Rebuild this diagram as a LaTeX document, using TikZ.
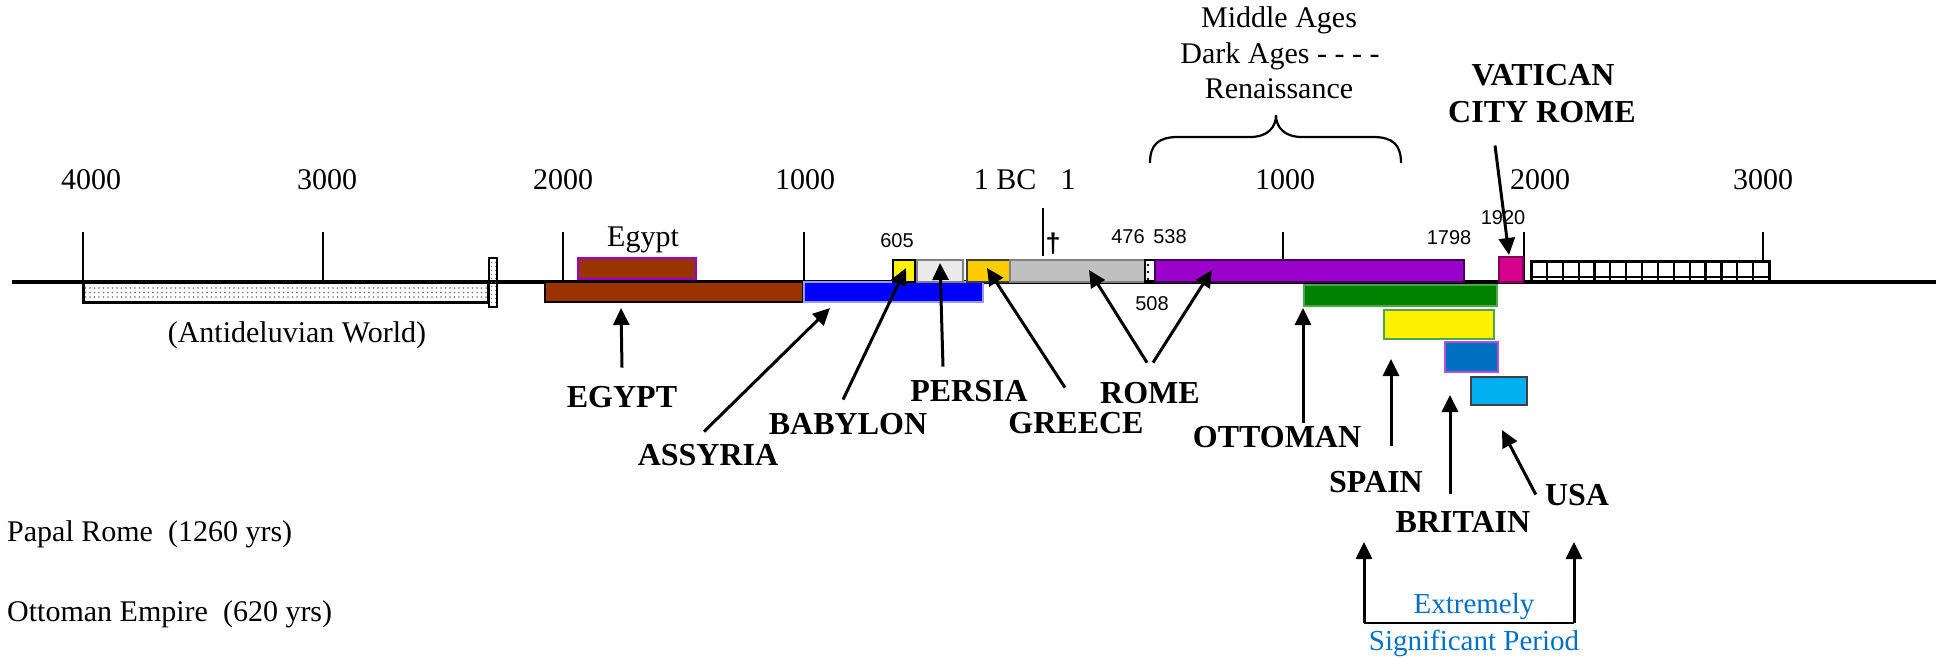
\documentclass[tikz,border=0pt]{standalone}
\usepackage{fontspec}
\setmainfont{Liberation Serif}
\newfontfamily\numfont{Liberation Sans}
\usetikzlibrary{arrows.meta,patterns.meta}

\definecolor{egyptbrown}{HTML}{993300}
\definecolor{assyriablue}{HTML}{0000FF}
\definecolor{persiagray}{HTML}{EAEAEA}
\definecolor{greeceorange}{HTML}{FFCC00}
\definecolor{romegray}{HTML}{C0C0C0}
\definecolor{papalpurple}{HTML}{9900CC}
\definecolor{vaticanpink}{HTML}{D6008F}
\definecolor{ottomangreen}{HTML}{008000}
\definecolor{britainblue}{HTML}{0070C0}
\definecolor{usacyan}{HTML}{00B0F0}
\definecolor{notetext}{HTML}{0070C0}

\begin{document}
\begin{tikzpicture}[x=1pt,y=-1pt,
	yearlbl/.style={anchor=base,inner sep=2pt,font=\fontsize{30}{36}\selectfont},
	empire/.style={anchor=base,inner sep=2pt,font=\fontsize{32}{38}\selectfont\bfseries},
	datelbl/.style={anchor=base,inner sep=1pt,font=\numfont\fontsize{20}{24}\selectfont},
	pointer/.style={line width=3pt,-{Triangle[length=17pt,width=16pt]}},
	tickmark/.style={line width=2.8pt},
	bar/.style={line width=1.2pt}]
	\useasboundingbox (0,0) rectangle (1936,657);

	\draw[line width=3.4pt] (12,282) -- (1936,282);
	\foreach \x in {83,323,563,804,1524}{
	  \draw[tickmark] (\x,232) -- (\x,282);
	}
	\draw[tickmark] (1043,208) -- (1043,256);
	\draw[tickmark] (1283,232) -- (1283,260);
	\draw[tickmark] (1763,232) -- (1763,261);

	\foreach \x/\t/\n in {91/4000/bcfour,327/3000/bcthree,563/2000/bctwo,805/1000/bcone,1005/1 BC/bczero,1068/1/adzero,1285/1000/adone,1540/2000/adtwo,1763/3000/adthree}{
	  \node[yearlbl] (\n) at (\x,189) {\t};
	}

	\draw[line width=3pt,pattern={Dots[distance=4.5pt,radius=0.9pt]},pattern color=black!55] (83,282) rectangle (488,302);
	\draw[line width=2.5pt,pattern={Dots[distance=4pt,radius=0.8pt]},pattern color=black!55] (489,258) rectangle (497,307);
	\draw[bar,fill=egyptbrown] (545,282) rectangle (803,302);
	\draw[bar,draw=papalpurple,fill=egyptbrown] (578,258) rectangle (696,279);
	\draw[bar,draw=assyriablue!40,fill=assyriablue] (804,282) rectangle (983,302);
	\draw[bar,fill=yellow] (893,260) rectangle (915,282);
	\draw[bar,draw=gray,fill=persiagray] (917,260) rectangle (963,282);
	\draw[bar,draw=darkgray,fill=greeceorange] (967,260) rectangle (1010,282);
	\draw[bar,draw=gray,fill=romegray] (1010,260) rectangle (1145,282);
	\draw[bar,pattern={Dots[distance=7pt,radius=1.3pt]}] (1145,260) rectangle (1155,282);
	\draw[bar,draw=papalpurple!40!black,fill=papalpurple] (1155,260) rectangle (1464,282);
	\draw[bar,draw=vaticanpink!60!black,fill=vaticanpink] (1499,257) rectangle (1523,282);
	\draw[bar,draw=ottomangreen!70,fill=ottomangreen] (1304,285) rectangle (1497,306);
	\draw[bar,draw=ottomangreen!70,fill=yellow] (1384,310) rectangle (1494,339);
	\draw[bar,draw=papalpurple!70,fill=britainblue] (1445,342) rectangle (1498,372);
	\draw[bar,draw=darkgray,fill=usacyan] (1471,377) rectangle (1527,405);

	\draw[line width=3pt,fill=white] (1531,261) rectangle (1769,281);
	\foreach \i in {1,...,14}{
	  \draw[line width=2.2pt] ({1531+\i*15.87},261) -- ({1531+\i*15.87},281);
	}
	\draw[line width=2pt] (1531,277) -- (1769,277);

	\draw[line width=2.2pt] (1150,163) .. controls (1150,145) and (1158,137) .. (1178,137) -- (1250,137) .. controls (1268,137) and (1276,127) .. (1276,115) .. controls (1276,127) and (1284,137) .. (1302,137) -- (1373,137) .. controls (1393,137) and (1401,145) .. (1401,163);

	\node[yearlbl] (midages) at (1279,27) {Middle Ages};
	\node[yearlbl] (darkages) at (1280,63) {Dark Ages - - - -};
	\node[yearlbl] (renaiss) at (1279,98) {Renaissance};

	\node[yearlbl] (egyptsmall) at (643,246) {Egypt};
	\node[datelbl] (d605) at (897,247) {605};
	\node[datelbl] (d476) at (1128,243) {476};
	\node[datelbl] (d538) at (1170,243) {538};
	\node[datelbl] (d508) at (1152,310) {508};
	\node[datelbl] (d1798) at (1449,244) {1798};
	\node[datelbl] (d1920) at (1503,224) {1920};
	\node[datelbl,font=\numfont\fontsize{27}{30}\selectfont\bfseries] (cross) at (1053,252) {†};

	\node[yearlbl] (antedil) at (297,342) {(Antideluvian World)};
	\node[yearlbl,anchor=base west] (papal) at (5,541) {Papal Rome\ \ (1260 yrs)};
	\node[yearlbl,anchor=base west] (ottemp) at (5,621) {Ottoman Empire\ \ (620 yrs)};

	\node[empire] (egypt) at (622,407) {EGYPT};
	\node[empire] (assyria) at (708,465) {ASSYRIA};
	\node[empire] (babylon) at (848,434) {BABYLON};
	\node[empire] (persia) at (969,401) {PERSIA};
	\node[empire] (greece) at (1076,433) {GREECE};
	\node[empire] (rome) at (1150,403) {ROME};
	\node[empire] (ottoman) at (1277,447) {OTTOMAN};
	\node[empire] (spain) at (1376,492) {SPAIN};
	\node[empire] (britain) at (1463,532) {BRITAIN};
	\node[empire] (usa) at (1577,505) {USA};
	\node[empire] (vatican) at (1543,85) {VATICAN};
	\node[empire] (cityrome) at (1542,122) {CITY ROME};

	\node[yearlbl,text=notetext,font=\fontsize{29}{34}\selectfont] (extremely) at (1474,613) {Extremely};
	\node[yearlbl,text=notetext,font=\fontsize{29}{34}\selectfont] (sigperiod) at (1474,650) {Significant Period};

	\coordinate (egypttip) at (621,308);
	\coordinate (assyriatip) at (830,308);
	\coordinate (babylontip) at (906,268);
	\coordinate (persiatip) at (940,263);
	\coordinate (greecetip) at (987,268);
	\coordinate (romeltip) at (1089,270);
	\coordinate (romertip) at (1212,270);
	\coordinate (ottomantip) at (1303,308);
	\coordinate (spaintip) at (1391,359);
	\coordinate (britaintip) at (1450,395);
	\coordinate (usatip) at (1502,430);
	\coordinate (vaticantip) at (1509,255);
	\coordinate (sigleft) at (1364,623);
	\coordinate (sigright) at (1574,623);
	\coordinate (sigltip) at (1364,542);
	\coordinate (sigrtip) at (1574,542);

	\draw[pointer] ([yshift=16pt]egypt.north) -- (egypttip);
	\draw[pointer] ([xshift=-4pt,yshift=10pt]assyria.north) -- (assyriatip);
	\draw[pointer] ([xshift=-5pt,yshift=11pt]babylon.north) -- (babylontip);
	\draw[pointer] ([xshift=-26pt,yshift=11pt]persia.north) -- (persiatip);
	\draw[pointer] ([xshift=-11pt,yshift=22pt]greece.north) -- (greecetip);
	\draw[pointer] ([xshift=-3pt,yshift=17pt]rome.north) -- (romeltip);
	\draw[pointer] ([xshift=3pt,yshift=17pt]rome.north) -- (romertip);
	\draw[pointer] ([xshift=26pt,yshift=1pt]ottoman.north) -- (ottomantip);
	\draw[pointer] ([xshift=15pt,yshift=23pt]spain.north) -- (spaintip);
	\draw[pointer] ([xshift=-13pt,yshift=15pt]britain.north) -- (britaintip);
	\draw[pointer] ([xshift=-7pt]usa.west) -- (usatip);
	\draw[pointer] ([xshift=-47pt,yshift=-21pt]cityrome.south) -- (vaticantip);

	\draw[line width=2.8pt] (sigleft) -- (sigright);
	\draw[pointer] (sigleft) -- (sigltip);
	\draw[pointer] (sigright) -- (sigrtip);
\end{tikzpicture}
\end{document}
